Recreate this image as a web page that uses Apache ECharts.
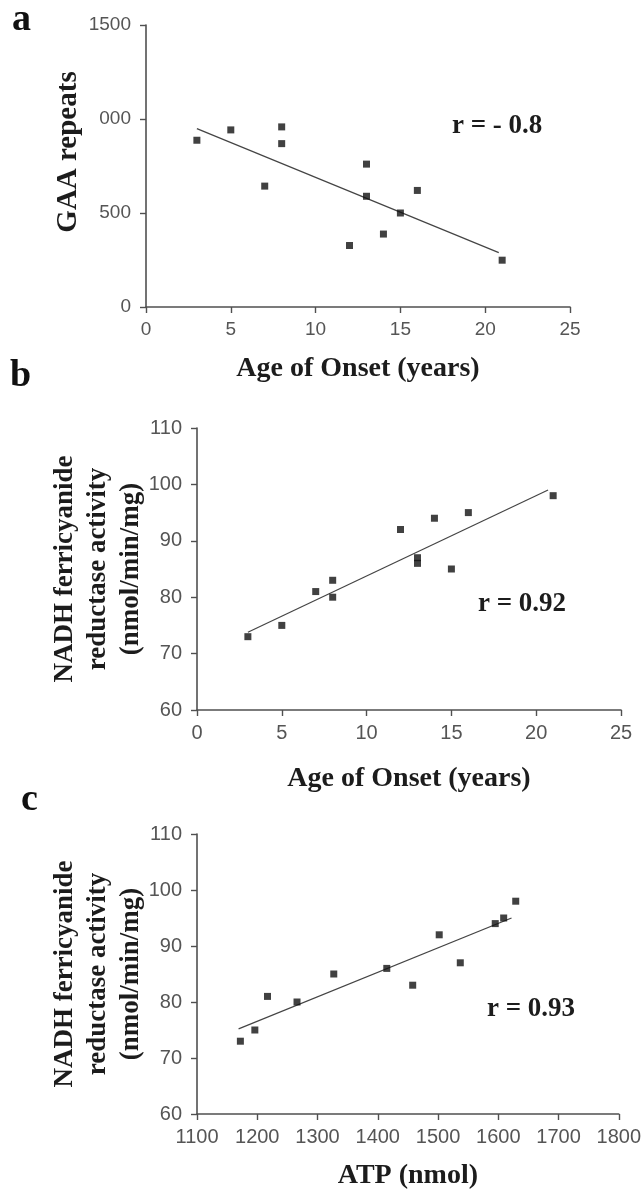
<!DOCTYPE html>
<html>
<head>
<meta charset="utf-8">
<script src="https://cdn.jsdelivr.net/npm/echarts@6/dist/echarts.min.js"></script>
<style>
html,body{margin:0;padding:0;background:#fff;}
#chart{width:644px;height:1191px;}
</style>
</head>
<body>
<div id="chart"></div>
<script>
// ---- Data ----
const onsetAgeA = [3, 5, 7, 8, 8, 12, 13, 13, 14, 15, 16, 21];
const gaaRepeats = [887, 942, 643, 958, 869, 327, 760, 589, 388, 500, 620, 249];
const trendA = [[3, 949], [20.8, 289]];

const onsetAgeB = [3, 5, 7, 8, 8, 12, 13, 13, 14, 15, 16, 21];
const nadhB = [73, 75, 81, 83, 80, 92, 87, 86, 94, 85, 95, 98];
const trendB = [[3, 73.8], [20.7, 99.0]];

const atpC = [1172, 1196, 1217, 1266, 1327, 1415, 1458, 1502, 1537, 1595, 1609, 1629];
const nadhC = [73, 75, 81, 80, 85, 86, 83, 92, 87, 94, 95, 98];
const trendC = [[1169, 75.2], [1622, 95.0]];

const yTickLabelsA = {0: '0', 500: '500', 1000: '000', 1500: '1500'};
const panelLetters = ['a', 'b', 'c'];
const rTexts = ['r = - 0.8', 'r = 0.92', 'r = 0.93'];
const xTitles = ['Age of Onset (years)', 'Age of Onset (years)', 'ATP (nmol)'];
const yTitles = ['GAA repeats', 'NADH ferricyanide\nreductase activity\n(nmol/min/mg)', 'NADH ferricyanide\nreductase activity\n(nmol/min/mg)'];

// ---- Styling ----
const axisColor = '#505050';
const tickFont = '"Liberation Sans", Arial, sans-serif';
const serif = '"Liberation Serif", "Times New Roman", serif';
const titleColor = '#1c1c1c';

function zip(xs, ys) { return xs.map((x, i) => [x, ys[i]]); }

const grids = [
  {left: 146, top: 25, width: 424, height: 282},
  {left: 197, top: 428, width: 424, height: 282},
  {left: 197, top: 834, width: 424, height: 282}
];

function xAxis(i, min, max, interval, fs, gap) {
  return {
    type: 'value', gridIndex: i, min: min, max: max, interval: interval,
    name: xTitles[i], nameLocation: 'middle', nameGap: gap, nameMoveOverlap: false,
    nameTextStyle: {fontFamily: serif, fontWeight: 'bold', fontSize: 28, color: titleColor},
    axisLine: {show: true, onZero: false, lineStyle: {color: axisColor, width: 1.6}},
    axisTick: {show: true, length: 6, lineStyle: {color: axisColor, width: 1.4}},
    axisLabel: {color: '#555', fontFamily: tickFont, fontSize: fs, margin: 13, formatter: v => String(v)},
    splitLine: {show: false}
  };
}
function yAxis(i, min, max, interval, fs, gap, extra) {
  return {
    type: 'value', gridIndex: i, min: min, max: max, interval: interval,
    name: yTitles[i], nameLocation: 'middle', nameGap: gap, nameMoveOverlap: false,
    nameTextStyle: Object.assign({fontFamily: serif, fontWeight: 'bold', fontSize: 27, color: titleColor, lineHeight: 33}, extra || {}),
    axisLine: {show: true, onZero: false, lineStyle: {color: axisColor, width: 1.6}},
    axisTick: {show: true, length: 6, lineStyle: {color: axisColor, width: 1.4}},
    axisLabel: {color: '#555', fontFamily: tickFont, fontSize: fs, margin: 15, formatter: v => String(v)},
    splitLine: {show: false}
  };
}

const yA = yAxis(0, 0, 1500, 500, 19, 63, {fontSize: 29, lineHeight: 29, padding: [0, 0, 0, 28]});
yA.axisLabel.formatter = v => yTickLabelsA[v];

const scatterStyle = {color: '#111'};
function scatter(i, data) {
  return {type: 'scatter', xAxisIndex: i, yAxisIndex: i, data: data, symbol: 'rect', symbolSize: 7, itemStyle: scatterStyle, z: 3};
}
function trend(i, data) {
  return {type: 'line', xAxisIndex: i, yAxisIndex: i, data: data, showSymbol: false, symbol: 'none',
    lineStyle: {color: '#444', width: 1.2}, silent: true, z: 2};
}

const letterPos = [{left: 12, top: 1}, {left: 10, top: 357}, {left: 21, top: 781}];
const rPos = [{left: 452, top: 113}, {left: 478, top: 591}, {left: 487, top: 996}];
const graphics = [];
panelLetters.forEach((t, i) => graphics.push({type: 'text', left: letterPos[i].left, top: letterPos[i].top,
  style: {text: t, font: 'bold 38px ' + serif, fill: '#111'}}));
rTexts.forEach((t, i) => graphics.push({type: 'text', left: rPos[i].left, top: rPos[i].top,
  style: {text: t, font: 'bold 27px ' + serif, fill: titleColor}}));

const option = {
  animation: false,
  backgroundColor: '#fff',
  grid: grids,
  xAxis: [
    xAxis(0, 0, 25, 5, 19, 48),
    xAxis(1, 0, 25, 5, 20, 55),
    xAxis(2, 1100, 1800, 100, 20, 48)
  ],
  yAxis: [
    yA,
    yAxis(1, 60, 110, 10, 20, 49),
    yAxis(2, 60, 110, 10, 20, 49)
  ],
  series: [
    trend(0, trendA), scatter(0, zip(onsetAgeA, gaaRepeats)),
    trend(1, trendB), scatter(1, zip(onsetAgeB, nadhB)),
    trend(2, trendC), scatter(2, zip(atpC, nadhC))
  ],
  graphic: graphics
};

const chart = echarts.init(document.getElementById('chart'), null, {renderer: 'canvas'});
chart.setOption(option);
</script>
</body>
</html>
